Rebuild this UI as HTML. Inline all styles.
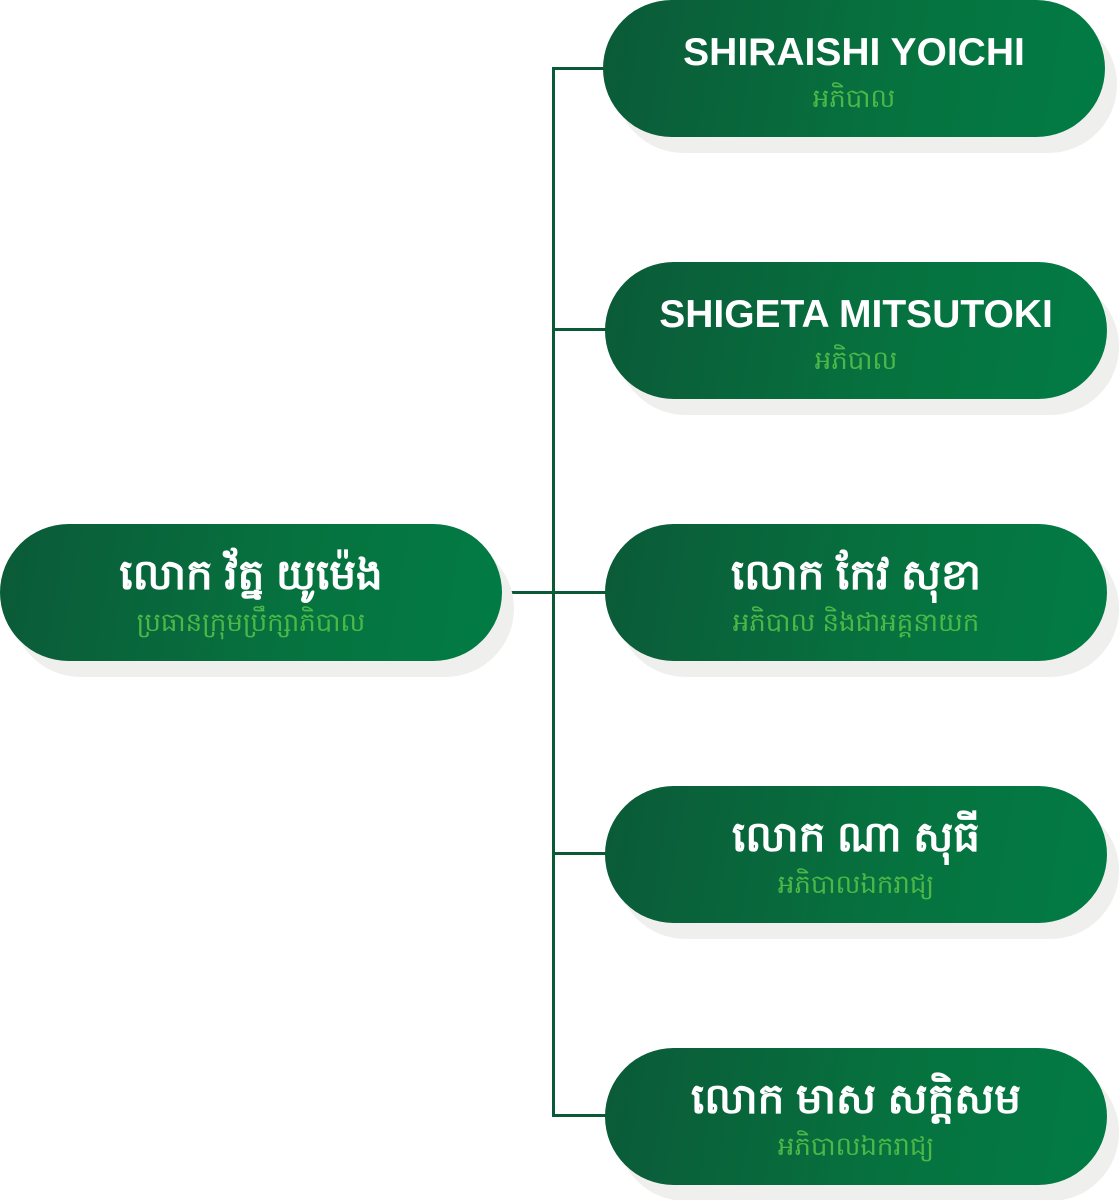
<!DOCTYPE html>
<html><head><meta charset="utf-8"><style>
body{margin:0;width:1119px;height:1200px;background:#fff;position:relative;overflow:hidden;font-family:"Liberation Sans",sans-serif}
.p{position:absolute;width:502px;height:137px;border-radius:69px;background:linear-gradient(100deg,#0b5a38,#06733f 60%,#027b45);box-shadow:12px 16px 0 #efefed;text-align:center;color:#fff}
.n{position:absolute;left:0;right:0;top:31px;font-size:39px;font-weight:bold;line-height:44px}
.k{font-size:42px;top:29px}
.s{position:absolute;left:0;right:0;top:83px;font-size:26px;color:#4cb848;line-height:30px}
.l{position:absolute;background:#0b5a37}
</style></head><body>
<div class="l" style="left:552px;top:67px;width:3px;height:1049px"></div>
<div class="l" style="left:552px;top:67px;width:52px;height:3px"></div>
<div class="l" style="left:552px;top:328px;width:54px;height:3px"></div>
<div class="l" style="left:500px;top:591px;width:106px;height:3px"></div>
<div class="l" style="left:552px;top:852px;width:54px;height:3px"></div>
<div class="l" style="left:552px;top:1114px;width:54px;height:3px"></div>

<div class="p" style="left:0;top:524px"><div class="n k">លោក វ័ត្ន យូម៉េង</div><div class="s">ប្រធានក្រុមប្រឹក្សាភិបាល</div></div>
<div class="p" style="left:603px;top:0"><div class="n">SHIRAISHI YOICHI</div><div class="s">អភិបាល</div></div>
<div class="p" style="left:605px;top:262px"><div class="n">SHIGETA MITSUTOKI</div><div class="s">អភិបាល</div></div>
<div class="p" style="left:605px;top:524px"><div class="n k">លោក កែវ សុខា</div><div class="s">អភិបាល និងជាអគ្គនាយក</div></div>
<div class="p" style="left:605px;top:786px"><div class="n k">លោក ណា សុធី</div><div class="s">អភិបាលឯករាជ្យ</div></div>
<div class="p" style="left:605px;top:1048px"><div class="n k">លោក មាស សក្តិសម</div><div class="s">អភិបាលឯករាជ្យ</div></div>
</body></html>
